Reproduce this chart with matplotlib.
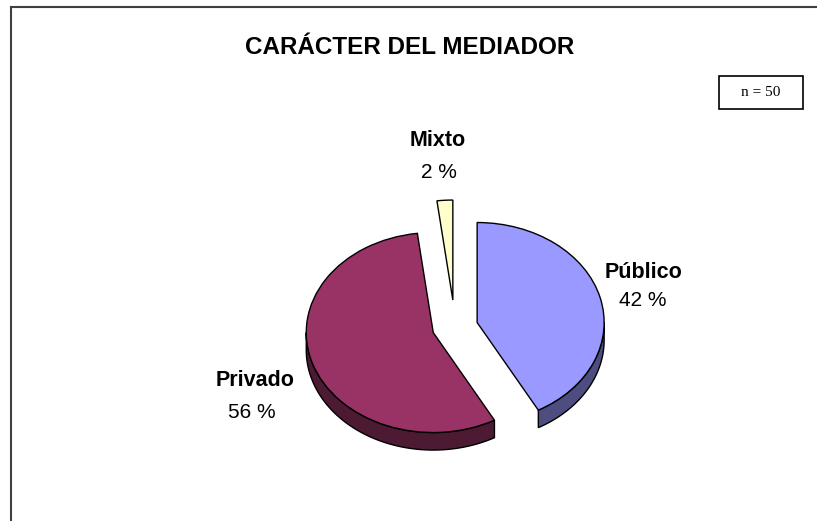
import numpy as np
import matplotlib
matplotlib.use('Agg')
import matplotlib.pyplot as plt
from matplotlib.patches import Polygon, Rectangle
from matplotlib.lines import Line2D

plt.rcParams['font.family'] = ['Liberation Sans', 'DejaVu Sans']

# data
categories = ['Público', 'Privado', 'Mixto']
values = [42, 56, 2]
n_total = 50

top_colors = ['#9999FF', '#993366', '#FFFFCC']
side_colors = ['#4D4D80', '#4D1A33', '#80806A']
explode = [0.18, 0.18, 0.27]

W, H = 817, 521
CX, CY = 455, 327        # pie centre in pixels
RX, RY = 127, 100        # pixels per data unit
DEPTH = 0.175            # thickness of the pie, data units (y)


def px(x, y):
    """pixel position -> data coords"""
    return (x - CX) / RX, (CY - y) / RY


fig = plt.figure(figsize=(W / 100, H / 100), dpi=100)
ax = fig.add_axes([0, 0, 1, 1])

wedges, _ = ax.pie(values, explode=explode, colors=top_colors, startangle=90,
                   counterclock=False,
                   wedgeprops=dict(edgecolor='black', linewidth=1.0, zorder=3))

# side walls (only the front half of the rim is visible)
for w, sc in zip(wedges, side_colors):
    cx, cy = w.center
    t1, t2 = w.theta1 % 360, w.theta2 % 360
    if t2 <= t1:
        t2 += 360
    a = max(t1, 180)
    b = min(t2, 360)
    if b <= a:
        continue
    th = np.radians(np.linspace(a, b, 80))
    xs = cx + w.r * np.cos(th)
    ys = cy + w.r * np.sin(th)
    pts = np.vstack([np.column_stack([xs, ys]),
                     np.column_stack([xs[::-1], ys[::-1] - DEPTH])])
    ax.add_patch(Polygon(pts, closed=True, facecolor=sc, edgecolor='black',
                         linewidth=1.0, zorder=2))

ax.set_aspect('auto')
ax.set_xlim(-CX / RX, (W - CX) / RX)
ax.set_ylim(-(H - CY) / RY, CY / RY)
ax.axis('off')

# labels
label_pos = {'Público': ((643, 272), (643, 300)),
             'Privado': ((255, 381), (252, 413)),
             'Mixto': ((438, 141), (439, 173))}
for cat, v in zip(categories, values):
    (lx, ly), (vx, vy) = label_pos[cat]
    ax.text(*px(lx, ly), cat, ha='center', va='center', fontsize=15.5,
            fontweight='bold')
    ax.text(*px(vx, vy), f'{v} %', ha='center', va='center', fontsize=15)

fig.text(410 / W, 1 - 47 / H, 'CARÁCTER DEL MEDIADOR', ha='center',
         va='center', fontsize=17.5, fontweight='bold')

# n box
fig.patches.append(Rectangle((719 / W, 1 - 109 / H), 84 / W, 33 / H,
                             transform=fig.transFigure, facecolor='white',
                             edgecolor='black', linewidth=1.2))
fig.text(761 / W, 1 - 92 / H, f'n = {n_total}', ha='center', va='center',
         fontsize=11, family='Liberation Serif')

# chart border (top and left)
fig.lines.append(Line2D([11 / W, 1], [1 - 7 / H, 1 - 7 / H],
                        transform=fig.transFigure, color='#404040', lw=1.5))
fig.lines.append(Line2D([11 / W, 11 / W], [0, 1 - 7 / H],
                        transform=fig.transFigure, color='#404040', lw=1.5))

fig.savefig('out.png', dpi=100)
